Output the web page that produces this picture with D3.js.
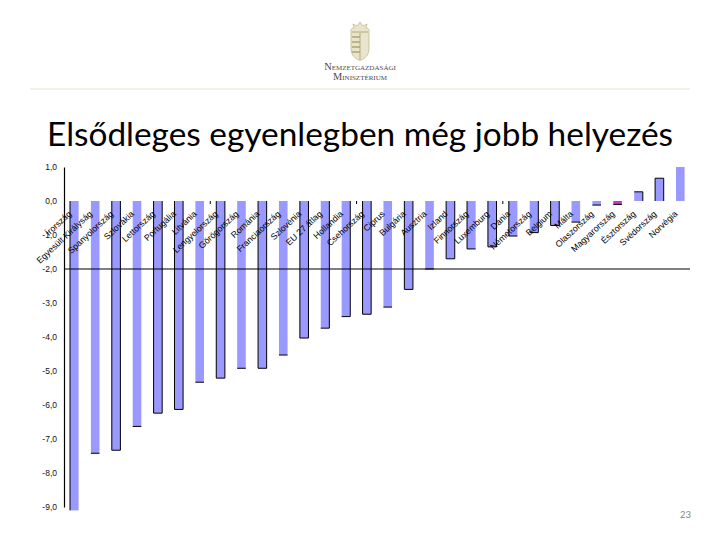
<!DOCTYPE html>
<html><head><meta charset="utf-8">
<script src="https://cdn.jsdelivr.net/npm/d3@7/dist/d3.min.js"></script>
<style>html,body{margin:0;padding:0;background:#fff}svg{display:block}</style>
</head><body><svg id="c" width="720" height="540"></svg>
<script>
const categories=["Írország","Egyesült Királyság","Spanyolország","Szlovákia","Lettország","Portugália","Litvánia","Lengyelország","Görögország","Románia","Franciaország","Szlovénia","EU 27 átlag","Hollandia","Csehország","Ciprus","Bulgária","Ausztria","Izland","Finnország","Luxemburg","Dánia","Németország","Belgium","Málta","Olaszország","Magyarország","Észtország","Svédország","Norvégia"];
const values=[-9.1,-7.42,-7.33,-6.63,-6.24,-6.13,-5.33,-5.21,-4.92,-4.92,-4.53,-4.03,-3.74,-3.4,-3.33,-3.12,-2.6,-2.0,-1.7,-1.41,-1.35,-1.03,-0.93,-0.72,-0.62,-0.12,-0.1,0.27,0.67,1.0];
const tickValues=[1,0,-1,-2,-3,-4,-5,-6,-7,-8,-9];
const tickLabels=["1,0","0,0","-1,0","-2,0","-3,0","-4,0","-5,0","-6,0","-7,0","-8,0","-9,0"];
const highlighted=["Magyarország"];
const bothEdges=["Spanyolország","Lettország","Portugália","Lengyelország","Románia","Szlovénia","Csehország","Bulgária","Izland","Luxemburg","Belgium","Svédország"];
const leftEdges=["Írország","Finnország","Dánia"];
const rightEdges=["EU 27 átlag","Hollandia","Németország","Észtország"];
const tickMarksBefore=["Lengyelország","Csehország","Dánia"];
const titleText="Elsődleges egyenlegben még jobb helyezés";
const logoLines=["Nemzetgazdasági","Minisztérium"];
const pageNumber="23";

const svg=d3.select("#c");
const x=d3.scalePoint().domain(categories).range([70,676]);
const barW=8.6;
const y=d3.scaleLinear().domain([1,-9]).range([167,507]);

svg.append("line").attr("x1",30).attr("x2",690).attr("y1",89).attr("y2",89).attr("stroke","#e6e2cf").attr("stroke-width",1);

// logo
const logo=svg.append("g");
logo.append("path").attr("d","M351,33 Q350,28 354,28 L353,24 L357,26 L360,22 L363,26 L367,24 L366,28 Q370,28 369,33 L369,49 Q369,57 360,60.5 Q351,57 351,49 Z").attr("fill","#e9e4cc").attr("stroke","#c4ba8e").attr("stroke-width",.8);
logo.append("line").attr("x1",360).attr("x2",360).attr("y1",33).attr("y2",60).attr("stroke","#a89c66").attr("stroke-width",.8);
logo.selectAll("line.b").data([37,42,47,52]).join("line").attr("x1",352).attr("x2",360).attr("y1",d=>d).attr("y2",d=>d).attr("stroke","#b3a878").attr("stroke-width",1.6);
logo.append("line").attr("x1",352).attr("x2",368).attr("y1",32).attr("y2",32).attr("stroke","#b3a878").attr("stroke-width",1);
logo.selectAll("text").data(logoLines).join("text").attr("x",360).attr("y",(d,i)=>70+i*10)
 .attr("text-anchor","middle").attr("font-family","Liberation Serif").attr("font-size",10.4).attr("fill","#4a4a4a").style("font-variant","small-caps").text(d=>d);

// title
svg.append("text").attr("x",47).attr("y",145.5).attr("font-family","Lato").attr("font-size",33.4).attr("fill","#000").text(titleText);

// bars
const zero=y(0);
svg.append("g").selectAll("rect").data(categories).join("rect")
 .attr("x",d=>x(d)).attr("width",barW)
 .attr("y",(d,i)=>Math.min(y(values[i]),zero)).attr("height",(d,i)=>Math.abs(y(values[i])-zero))
 .attr("fill",d=>highlighted.includes(d)?"#cc33cc":"#9999ff");
svg.append("g").attr("stroke","#000").attr("fill","none").selectAll("path").data(categories).join("path").attr("stroke-width",1)
 .attr("d",(d,i)=>{const l=x(d),r=l+barW,t=zero,b=y(values[i]);
   if(i===0) return `M${l},${t}V${b}`;
   if(bothEdges.includes(d)) return `M${l},${t}V${b}H${r}V${t}`;
   if(leftEdges.includes(d)) return `M${l},${t}V${b}H${r}`;
   if(rightEdges.includes(d)) return `M${l},${b}H${r}V${t}`;
   return values[i]<0&&values[i]>-9?`M${l},${b}H${r}`:"";});
svg.append("g").selectAll("line").data(tickMarksBefore).join("line")
 .attr("x1",d=>x(d)-6).attr("x2",d=>x(d)-6).attr("y1",zero).attr("y2",zero+3).attr("stroke","#000");

// axes
const yAxis=d3.axisLeft(y).tickValues(tickValues).tickFormat((d,i)=>tickLabels[i]).tickSize(0).tickPadding(7);
const ga=svg.append("g").attr("transform","translate(64,0)").call(yAxis);
ga.select(".domain").attr("stroke","#000").attr("stroke-width",1.2);
ga.selectAll("text").attr("font-family","Liberation Sans").attr("font-size",8.5).attr("fill","#111");
svg.append("line").attr("x1",64).attr("x2",690).attr("y1",y(-2)).attr("y2",y(-2)).attr("stroke","#000").attr("stroke-width",1.2);

// rotated category labels
svg.append("g").selectAll("text").data(categories).join("text")
 .attr("transform",d=>`translate(${x(d)+2},${y(-0.4)}) rotate(-43)`)
 .attr("text-anchor","end").attr("font-family","Liberation Sans").attr("font-size",8.8).attr("fill","#000").text(d=>d);

svg.append("text").attr("x",691).attr("y",518).attr("text-anchor","end").attr("font-family","Lato").attr("font-size",9.5).attr("fill","#85857a").text(pageNumber);
</script></body></html>
